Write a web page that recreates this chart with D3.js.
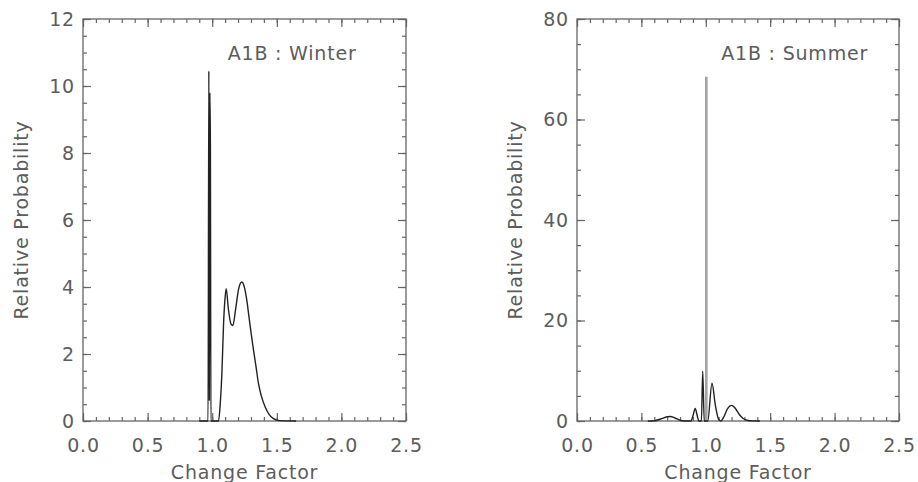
<!DOCTYPE html>
<html>
<head>
<meta charset="utf-8">
<script src="https://cdn.jsdelivr.net/npm/d3@7"></script>
<style>
  html, body { margin: 0; padding: 0; background: #fff; }
  svg { display: block; }
  text { font-family: "DejaVu Sans", sans-serif; fill: #5c5c5c; letter-spacing: 0.8px; }
</style>
</head>
<body>
<svg id="chart" width="918" height="482"></svg>
<script>
// Change factor axis (shared)
const xMajorTicks = [0.0, 0.5, 1.0, 1.5, 2.0, 2.5];
const xMinorTicks = d3.range(0, 2.5001, 0.1);

// Winter panel: relative probability of change factor
const winterX = [0.90, 0.968, 0.974, 0.978, 0.982, 0.986, 0.990, 1.049, 1.062, 1.075, 1.088, 1.098, 1.108, 1.125, 1.145, 1.160, 1.180, 1.205, 1.229, 1.250, 1.268, 1.285, 1.302, 1.320, 1.340, 1.358, 1.380, 1.410, 1.440, 1.474, 1.520, 1.650];
const winterY = [0, 0, 10.45, 0.6, 9.8, 8.3, 0, 0, 0.5, 1.42, 2.91, 3.6, 3.95, 3.35, 2.9, 2.85, 3.3, 3.95, 4.15, 3.98, 3.6, 3.1, 2.6, 2.11, 1.6, 1.12, 0.75, 0.42, 0.2, 0.07, 0.01, 0];
const winterYTicks = [0, 2, 4, 6, 8, 10, 12];
const winterYMinor = d3.range(0, 12.001, 0.5);

// Summer panel: broad distribution plus a narrow central spike
const summerX = [0.55, 0.60, 0.65, 0.70, 0.725, 0.76, 0.80, 0.83, 0.885, 0.902, 0.918, 0.932, 0.946, 0.966, 0.976, 0.988, 1.015, 1.048, 1.075, 1.100, 1.115, 1.140, 1.170, 1.200, 1.230, 1.260, 1.290, 1.320, 1.360, 1.420];
const summerY = [0, 0.05, 0.4, 0.85, 0.9, 0.6, 0.15, 0, 0, 1.2, 2.5, 1.2, 0, 0, 9.9, 0, 0, 7.5, 3.0, 0.3, 0, 0.8, 2.5, 3.1, 2.5, 1.3, 0.5, 0.15, 0.02, 0];
const summerSpikeX = [1.004, 1.004];
const summerSpikeY = [0, 68.5];
const summerYTicks = [0, 20, 40, 60, 80];
const summerYMinor = d3.range(0, 80.001, 5);

const svg = d3.select("#chart");

function panel(opts) {
  const { left, right, top, bottom, yMax, yTicks, yMinor, title, series } = opts;
  const x = d3.scaleLinear().domain([0, 2.5]).range([left, right]);
  const y = d3.scaleLinear().domain([0, yMax]).range([bottom, top]);
  const g = svg.append("g");
  const fmtX = d3.format(".1f");

  const style = sel => {
    sel.select(".domain").remove();
    sel.selectAll("line").attr("stroke", "#666").attr("stroke-width", 1.2);
    sel.selectAll("text").attr("font-size", 19).attr("fill", "#5c5c5c")
      .attr("font-family", "DejaVu Sans, sans-serif");
  };

  // bottom axis: major with labels, minor without
  g.append("g").attr("transform", `translate(0,${bottom})`)
    .call(d3.axisBottom(x).tickValues(xMinorTicks).tickSize(-4).tickFormat(""))
    .call(style);
  g.append("g").attr("transform", `translate(0,${bottom})`)
    .call(d3.axisBottom(x).tickValues(xMajorTicks).tickSize(-8).tickPadding(17.5).tickFormat(fmtX))
    .call(style);
  // top axis mirrors bottom ticks
  g.append("g").attr("transform", `translate(0,${top})`)
    .call(d3.axisTop(x).tickValues(xMinorTicks).tickSize(-4).tickFormat(""))
    .call(style);
  g.append("g").attr("transform", `translate(0,${top})`)
    .call(d3.axisTop(x).tickValues(xMajorTicks).tickSize(-8).tickFormat(""))
    .call(style);
  // left axis
  g.append("g").attr("transform", `translate(${left},0)`)
    .call(d3.axisLeft(y).tickValues(yMinor).tickSize(-4).tickFormat(""))
    .call(style);
  g.append("g").attr("transform", `translate(${left},0)`)
    .call(d3.axisLeft(y).tickValues(yTicks).tickSize(-8).tickPadding(8).tickFormat(d3.format("d")))
    .call(style);
  // right axis mirrors left ticks
  g.append("g").attr("transform", `translate(${right},0)`)
    .call(d3.axisRight(y).tickValues(yMinor).tickSize(-4).tickFormat(""))
    .call(style);
  g.append("g").attr("transform", `translate(${right},0)`)
    .call(d3.axisRight(y).tickValues(yTicks).tickSize(-8).tickFormat(""))
    .call(style);

  // frame
  g.append("rect")
    .attr("x", left).attr("y", top)
    .attr("width", right - left).attr("height", bottom - top)
    .attr("fill", "none").attr("stroke", "#666").attr("stroke-width", 1.3);

  // curves
  series.forEach(s => {
    const pts = s.xs.map((v, i) => [v, s.ys[i]]);
    const line = d3.line().x(d => x(d[0])).y(d => y(d[1]))
      .curve(s.curve || d3.curveMonotoneX);
    g.append("path").datum(pts)
      .attr("d", line)
      .attr("fill", "none")
      .attr("stroke", s.color)
      .attr("stroke-width", s.width)
      .attr("stroke-linejoin", "round");
  });

  // title inside the plot
  g.append("text")
    .attr("x", left + 0.448 * (right - left))
    .attr("y", top + 0.102 * (bottom - top))
    .attr("font-size", 19)
    .text(title);

  // axis titles
  g.append("text")
    .attr("x", (left + right) / 2)
    .attr("y", bottom + 58)
    .attr("text-anchor", "middle")
    .attr("font-size", 19)
    .text("Change Factor");
  g.append("text")
    .attr("transform", `translate(${left - 55.5},${(top + bottom) / 2}) rotate(-90)`)
    .attr("text-anchor", "middle")
    .attr("font-size", 19)
    .text("Relative Probability");
}

panel({
  left: 83, right: 406, top: 19, bottom: 421,
  yMax: 12, yTicks: winterYTicks, yMinor: winterYMinor,
  title: "A1B : Winter",
  series: [{ xs: winterX, ys: winterY, color: "#222", width: 1.4 }]
});

panel({
  left: 577, right: 899, top: 19, bottom: 421,
  yMax: 80, yTicks: summerYTicks, yMinor: summerYMinor,
  title: "A1B : Summer",
  series: [
    { xs: summerSpikeX, ys: summerSpikeY, color: "#a3a3a3", width: 2.6, curve: d3.curveLinear },
    { xs: summerX, ys: summerY, color: "#222", width: 1.4 }
  ]
});
</script>
</body>
</html>
